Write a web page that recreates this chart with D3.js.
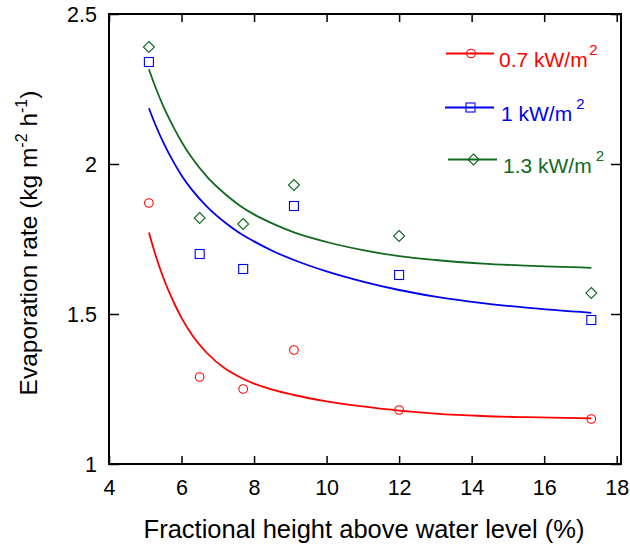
<!DOCTYPE html>
<html>
<head>
<meta charset="utf-8">
<script src="https://cdn.jsdelivr.net/npm/d3@7"></script>
<style>
  html, body { margin: 0; padding: 0; background: #fff; }
  svg { display: block; font-family: "Liberation Sans", Arial, sans-serif; }
</style>
</head>
<body>
<svg id="chart" width="630" height="545"></svg>
<script>
// ---- data ----
const xTicks = [4, 6, 8, 10, 12, 14, 16, 18];
const yTicks = [1, 1.5, 2, 2.5];
const yTickLabels = ["1", "1.5", "2", "2.5"];

const heights = [5.1, 6.5, 7.7, 9.1, 12, 17.3];
const rate07 = [1.87, 1.29, 1.25, 1.38, 1.18, 1.15];
const rate10 = [2.34, 1.70, 1.65, 1.86, 1.63, 1.48];
const rate13 = [2.39, 1.82, 1.80, 1.93, 1.76, 1.57];

const fitX    = [5.1, 5.3, 5.5, 5.8, 6.0, 6.3, 6.7, 7.2, 7.6, 8.0, 8.5, 9.1, 10, 11, 12, 13, 14.3, 15.5, 17.3];
const fit07   = [1.772, 1.690, 1.620, 1.535, 1.487, 1.428, 1.370, 1.318, 1.290, 1.268, 1.248, 1.230, 1.209, 1.192, 1.178, 1.168, 1.160, 1.156, 1.152];
const fit10   = [2.186, 2.125, 2.071, 2.002, 1.962, 1.912, 1.858, 1.805, 1.770, 1.742, 1.711, 1.680, 1.642, 1.608, 1.580, 1.558, 1.536, 1.521, 1.504];
const fit13   = [2.316, 2.250, 2.192, 2.118, 2.074, 2.018, 1.958, 1.900, 1.862, 1.832, 1.802, 1.772, 1.740, 1.713, 1.693, 1.680, 1.668, 1.661, 1.654];

const seriesNames = ["0.7 kW/m", "1 kW/m", "1.3 kW/m"];
const seriesColors = ["#ff0000", "#0000f0", "#13691f"];
const seriesMarkers = ["circle", "square", "diamond"];

// ---- layout ----
const svg = d3.select("#chart");
const pLeft = 109, pTop = 14, pBottom = 464, pRight = 621;
const x = d3.scaleLinear().domain([4, 18]).range([pLeft, 616.7]);
const y = d3.scaleLinear().domain([1, 2.5]).range([pBottom, pTop]);

const series = [
  { name: seriesNames[0], color: seriesColors[0], marker: seriesMarkers[0], pts: rate07, fit: fit07 },
  { name: seriesNames[1], color: seriesColors[1], marker: seriesMarkers[1], pts: rate10, fit: fit10 },
  { name: seriesNames[2], color: seriesColors[2], marker: seriesMarkers[2], pts: rate13, fit: fit13 }
];

function drawMarker(g, type, cx, cy, color) {
  if (type === "circle") {
    g.append("circle").attr("cx", cx).attr("cy", cy).attr("r", 4.3)
      .attr("fill", "none").attr("stroke", color).attr("stroke-width", 1.1);
  } else if (type === "square") {
    g.append("rect").attr("x", cx - 4.5).attr("y", cy - 4.5).attr("width", 9).attr("height", 9)
      .attr("fill", "none").attr("stroke", color).attr("stroke-width", 1.1);
  } else {
    const r = 5.5;
    g.append("path").attr("d", `M${cx},${cy - r}L${cx + r},${cy}L${cx},${cy + r}L${cx - r},${cy}Z`)
      .attr("fill", "none").attr("stroke", color).attr("stroke-width", 1.1);
  }
}

// fitted curves
const line = d3.line().x(d => x(d[0])).y(d => y(d[1])).curve(d3.curveMonotoneX);
series.forEach(s => {
  svg.append("path")
    .datum(fitX.map((v, i) => [v, s.fit[i]]))
    .attr("d", line)
    .attr("fill", "none").attr("stroke", s.color).attr("stroke-width", 1.8);
});

// data markers
series.forEach(s => {
  const g = svg.append("g");
  heights.forEach((h, i) => drawMarker(g, s.marker, x(h), y(s.pts[i]), s.color));
});

// axes box
svg.append("path")
  .attr("d", `M${pLeft},${pTop}H${pRight}V${pBottom}H${pLeft}Z`)
  .attr("fill", "none").attr("stroke", "#000").attr("stroke-width", 2);

// inward ticks using d3 axes
const tickLen = 8;
const axB = svg.append("g").attr("transform", `translate(0,${pBottom})`)
  .call(d3.axisBottom(x).tickValues(xTicks).tickSizeInner(-tickLen).tickSizeOuter(0));
const axT = svg.append("g").attr("transform", `translate(0,${pTop})`)
  .call(d3.axisTop(x).tickValues(xTicks).tickSizeInner(-tickLen).tickSizeOuter(0).tickFormat(""));
const axL = svg.append("g").attr("transform", `translate(${pLeft},0)`)
  .call(d3.axisLeft(y).tickValues(yTicks).tickSizeInner(-tickLen - 2).tickSizeOuter(0)
    .tickFormat((d, i) => yTickLabels[i]));
const axR = svg.append("g").attr("transform", `translate(${pRight},0)`)
  .call(d3.axisRight(y).tickValues(yTicks).tickSizeInner(-tickLen - 2).tickSizeOuter(0).tickFormat(""));

[axB, axT, axL, axR].forEach(a => {
  a.select(".domain").remove();
  a.selectAll(".tick line").attr("stroke", "#000").attr("stroke-width", 1.5);
  a.selectAll("text").attr("fill", "#000").attr("font-size", 21.5)
    .attr("font-family", '"Liberation Sans", Arial, sans-serif');
});
axB.selectAll(".tick text").attr("dy", "0.71em").attr("y", 15.5);
axL.selectAll(".tick text").attr("x", -12).attr("dy", "0.36em");

// axis titles
svg.append("text")
  .attr("x", 364).attr("y", 538)
  .attr("text-anchor", "middle").attr("font-size", 25.5).attr("fill", "#000")
  .text("Fractional height above water level (%)");

const yt = svg.append("text")
  .attr("transform", `translate(37,243) rotate(-90)`)
  .attr("text-anchor", "middle").attr("font-size", 24.5).attr("fill", "#000");
yt.append("tspan").text("Evaporation rate (kg m");
yt.append("tspan").attr("font-size", 16).attr("dy", -10).text("-2");
yt.append("tspan").attr("dy", 10).text(" h");
yt.append("tspan").attr("font-size", 16).attr("dy", -10).text("-1");
yt.append("tspan").attr("dy", 10).text(")");

// legend
const legY = [53.5, 107.5, 159.5];
const legLineX = [[446, 494], [445, 494], [448, 497]];
const legTextX = [499, 501, 503];
series.forEach((s, i) => {
  const g = svg.append("g");
  g.append("line").attr("x1", legLineX[i][0]).attr("x2", legLineX[i][1])
    .attr("y1", legY[i]).attr("y2", legY[i]).attr("stroke", s.color).attr("stroke-width", 2);
  drawMarker(g, s.marker, (legLineX[i][0] + legLineX[i][1]) / 2 + 1, legY[i], s.color);
  const t = g.append("text").attr("x", legTextX[i]).attr("y", legY[i] + 13)
    .attr("font-size", 21).attr("fill", s.color);
  t.append("tspan").text(s.name);
  t.append("tspan").attr("font-size", 15).attr("dy", -12).attr("dx", i === 0 ? 1.5 : 4).text("2");
});
</script>
</body>
</html>
